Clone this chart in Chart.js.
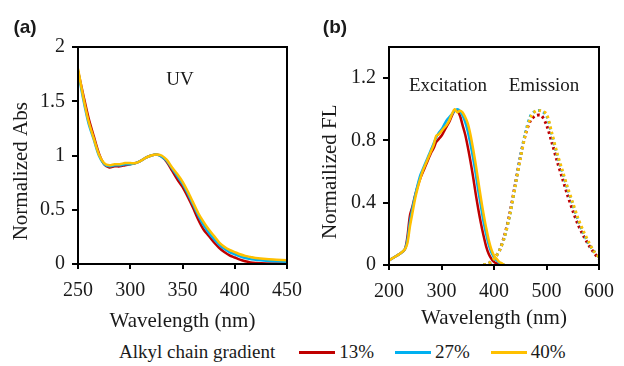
<!DOCTYPE html>
<html>
<head>
<meta charset="utf-8">
<script src="https://cdn.jsdelivr.net/npm/chart.js@4.4.1/dist/chart.umd.min.js"></script>
<style>
  body { margin: 0; background: #fff; }
  #wrap { position: relative; width: 624px; height: 366px; overflow: hidden; font-family: 'Liberation Serif', 'DejaVu Serif', serif; }
  canvas { position: absolute; top: 0; }
  #chartUV { left: 0; }
  #chartFL { left: 312px; }
  #legend { position: absolute; left: 119px; top: 341px; height: 22px; display: flex; align-items: center; font-size: 19px; color: #1a1a1a; white-space: nowrap; }
  .sw { display: inline-block; width: 36px; height: 3px; margin: 0 4px 0 21px; }
  .sw.first { margin-left: 24px; }
</style>
</head>
<body>
<div id="wrap">
  <canvas id="chartUV" width="312" height="340"></canvas>
  <canvas id="chartFL" width="312" height="340"></canvas>
  <div id="legend"></div>
</div>
<script>
const seriesLabels = ["13%", "27%", "40%"];
const seriesColors = ["#C00000", "#00B0F0", "#FFC000"];
const legendTitle = "Alkyl chain gradient";

// (a) UV absorbance
const uvWavelength = [250, 255, 260, 265, 270, 275, 280, 285, 290, 295, 300, 305, 310, 315, 320, 325, 330, 335, 340, 345, 350, 355, 360, 365, 370, 375, 380, 385, 390, 395, 400, 405, 410, 415, 420, 430, 440, 450];
const uv13 = [1.78, 1.56, 1.35, 1.18, 1.02, 0.92, 0.89, 0.90, 0.90, 0.91, 0.92, 0.93, 0.95, 0.98, 1.00, 1.01, 0.99, 0.94, 0.86, 0.78, 0.71, 0.62, 0.52, 0.41, 0.32, 0.26, 0.20, 0.15, 0.11, 0.08, 0.06, 0.04, 0.025, 0.015, 0.01, 0.005, 0.005, 0.005];
const uv27 = [1.78, 1.52, 1.30, 1.15, 1.00, 0.92, 0.90, 0.91, 0.91, 0.92, 0.92, 0.93, 0.95, 0.98, 1.00, 1.01, 0.99, 0.95, 0.88, 0.81, 0.74, 0.65, 0.55, 0.45, 0.36, 0.29, 0.23, 0.18, 0.14, 0.11, 0.09, 0.07, 0.055, 0.045, 0.04, 0.03, 0.025, 0.02];
const uv40 = [1.80, 1.54, 1.32, 1.16, 1.01, 0.93, 0.91, 0.92, 0.92, 0.93, 0.93, 0.93, 0.95, 0.98, 1.00, 1.01, 1.00, 0.96, 0.89, 0.83, 0.76, 0.67, 0.57, 0.47, 0.39, 0.32, 0.26, 0.20, 0.16, 0.13, 0.11, 0.09, 0.075, 0.065, 0.055, 0.045, 0.04, 0.035];
const uvXTicks = [250, 300, 350, 400, 450];
const uvYTicks = [0, 0.5, 1, 1.5, 2];

// (b) fluorescence excitation (solid) and emission (dotted)
const exWavelength = [200, 210, 220, 230, 235, 240, 245, 250, 255, 260, 265, 270, 275, 280, 285, 290, 295, 300, 305, 310, 315, 320, 325, 330, 335, 340, 345, 350, 355, 360, 365, 370, 375, 380, 385, 390, 395, 400, 405, 410, 415, 420];
const ex13 = [0.03, 0.05, 0.07, 0.10, 0.18, 0.32, 0.38, 0.45, 0.51, 0.56, 0.60, 0.64, 0.68, 0.72, 0.75, 0.79, 0.81, 0.83, 0.86, 0.89, 0.92, 0.96, 0.99, 0.99, 0.96, 0.90, 0.84, 0.76, 0.67, 0.57, 0.46, 0.36, 0.27, 0.19, 0.12, 0.07, 0.04, 0.02, 0.01, 0.005, 0, 0];
const ex27 = [0.03, 0.05, 0.07, 0.10, 0.16, 0.28, 0.37, 0.45, 0.52, 0.58, 0.62, 0.66, 0.70, 0.74, 0.78, 0.82, 0.85, 0.87, 0.90, 0.93, 0.95, 0.97, 0.99, 1.00, 0.99, 0.96, 0.92, 0.86, 0.78, 0.69, 0.59, 0.48, 0.38, 0.28, 0.20, 0.13, 0.08, 0.05, 0.03, 0.015, 0.005, 0];
const ex40 = [0.03, 0.05, 0.07, 0.10, 0.14, 0.25, 0.34, 0.43, 0.50, 0.56, 0.61, 0.65, 0.69, 0.73, 0.77, 0.83, 0.84, 0.86, 0.88, 0.90, 0.93, 0.97, 1.00, 0.98, 0.99, 0.98, 0.95, 0.91, 0.84, 0.75, 0.65, 0.54, 0.43, 0.33, 0.24, 0.16, 0.10, 0.06, 0.04, 0.02, 0.01, 0];
const emWavelength = [380, 390, 400, 410, 420, 430, 440, 450, 460, 470, 480, 490, 500, 510, 520, 530, 540, 550, 560, 570, 580, 590, 600];
const em13 = [0.0, 0.01, 0.04, 0.09, 0.19, 0.33, 0.51, 0.69, 0.84, 0.93, 0.96, 0.96, 0.90, 0.79, 0.67, 0.56, 0.45, 0.35, 0.26, 0.19, 0.13, 0.08, 0.04];
const em27 = [0.0, 0.01, 0.04, 0.09, 0.18, 0.32, 0.50, 0.69, 0.85, 0.96, 0.99, 0.99, 0.96, 0.84, 0.71, 0.60, 0.49, 0.39, 0.29, 0.21, 0.14, 0.09, 0.05];
const em40 = [0.0, 0.01, 0.04, 0.09, 0.18, 0.32, 0.50, 0.68, 0.84, 0.95, 0.99, 0.99, 0.97, 0.85, 0.72, 0.61, 0.50, 0.40, 0.30, 0.22, 0.15, 0.09, 0.05];
const flXTicks = [200, 300, 400, 500, 600];
const flYTicks = [0, 0.4, 0.8, 1.2];

const serif = "'Liberation Serif', 'DejaVu Serif', serif";
const sans = "'Liberation Sans', Arial, sans-serif";
Chart.defaults.color = "#1a1a1a";
Chart.defaults.font.family = serif;

function points(xs, ys) {
    return xs.map((x, i) => ({x: x, y: ys[i]}));
}

function line(xs, ys, idx, dashed) {
    return {
        label: seriesLabels[idx],
        data: points(xs, ys),
        borderColor: seriesColors[idx],
        borderWidth: dashed ? 3 : 2.5,
        borderDash: dashed ? [2.5, 3] : [],
        pointRadius: 0,
        tension: 0.3,
        fill: false,
        order: 3 - idx
    };
}

// plot frame + free text
const boxAndText = {
    id: "boxAndText",
    afterDatasetsDraw(chart, args, opts) {
        const {ctx, chartArea: a} = chart;
        ctx.save();
        ctx.strokeStyle = "#000";
        ctx.lineWidth = 2;
        ctx.strokeRect(a.left, a.top, a.right - a.left, a.bottom - a.top);
        (opts.items || []).forEach(t => {
            ctx.font = t.font;
            ctx.fillStyle = "#1a1a1a";
            ctx.textAlign = "center";
            ctx.textBaseline = "middle";
            ctx.fillText(t.text, t.x, t.y);
        });
        ctx.restore();
    }
};

function axes(cfg) {
    return {
        x: {
            type: "linear",
            min: cfg.xTicks[0],
            max: cfg.xTicks[cfg.xTicks.length - 1],
            afterBuildTicks: s => { s.ticks = cfg.xTicks.map(v => ({value: v})); },
            afterFit: s => { s.height = cfg.xHeight; },
            ticks: {font: {family: serif, size: 20}, padding: 10, maxRotation: 0, autoSkip: false, callback: v => String(v)},
            grid: {drawOnChartArea: false, drawTicks: true, tickLength: 5, color: "#000", lineWidth: 2},
            border: {display: true, color: "#000", width: 2},
            title: {display: true, text: "Wavelength (nm)", font: {family: serif, size: 21}, padding: {top: 0, bottom: cfg.xTitlePad}}
        },
        y: {
            type: "linear",
            min: cfg.yTicks[0],
            max: cfg.yMax,
            afterBuildTicks: s => { s.ticks = cfg.yTicks.map(v => ({value: v})); },
            afterFit: s => { s.width = cfg.yWidth; },
            ticks: {font: {family: serif, size: 20}, padding: 7, callback: v => String(v)},
            grid: {drawOnChartArea: false, drawTicks: true, tickLength: 6, color: "#000", lineWidth: 2},
            border: {display: true, color: "#000", width: 2},
            title: {display: true, text: cfg.yTitle, font: {family: serif, size: 21}, padding: {top: cfg.yTitlePad, bottom: 0}}
        }
    };
}

function makeChart(id, datasets, cfg) {
    return new Chart(document.getElementById(id), {
        type: "line",
        data: {datasets: datasets},
        options: {
            responsive: false,
            animation: false,
            devicePixelRatio: 1,
            layout: {padding: {top: 47, right: cfg.padRight, bottom: 0, left: 0}},
            scales: axes(cfg),
            plugins: {
                legend: {display: false},
                tooltip: {enabled: false},
                boxAndText: {items: cfg.texts}
            }
        },
        plugins: [boxAndText]
    });
}

makeChart("chartUV", [
    line(uvWavelength, uv13, 0, false),
    line(uvWavelength, uv27, 1, false),
    line(uvWavelength, uv40, 2, false)
], {
    xTicks: uvXTicks, yTicks: uvYTicks, yMax: 2,
    xHeight: 76, yWidth: 78, padRight: 16,
    xTitlePad: 6, yTitlePad: 9,
    yTitle: "Normalized Abs      ",
    texts: [
        {text: "(a)", x: 25, y: 28, font: "bold 19px " + sans},
        {text: "UV", x: 180, y: 80, font: "19px " + serif}
    ]
});

makeChart("chartFL", [
    line(exWavelength, ex13, 0, false),
    line(exWavelength, ex27, 1, false),
    line(exWavelength, ex40, 2, false),
    line(emWavelength, em13, 0, true),
    line(emWavelength, em27, 1, true),
    line(emWavelength, em40, 2, true)
], {
    xTicks: flXTicks, yTicks: flYTicks, yMax: 1.4,
    xHeight: 75, yWidth: 77, padRight: 19,
    xTitlePad: 9, yTitlePad: 6,
    yTitle: "Normailized FL      ",
    texts: [
        {text: "(b)", x: 23, y: 28, font: "bold 19px " + sans},
        {text: "Excitation", x: 136, y: 86, font: "19px " + serif},
        {text: "Emission", x: 232, y: 86, font: "19px " + serif}
    ]
});

// legend row
const legend = document.getElementById("legend");
legend.appendChild(document.createTextNode(legendTitle));
seriesLabels.forEach((lab, i) => {
    const sw = document.createElement("span");
    sw.className = "sw" + (i === 0 ? " first" : "");
    sw.style.background = seriesColors[i];
    legend.appendChild(sw);
    legend.appendChild(document.createTextNode(lab));
});
</script>
</body>
</html>
